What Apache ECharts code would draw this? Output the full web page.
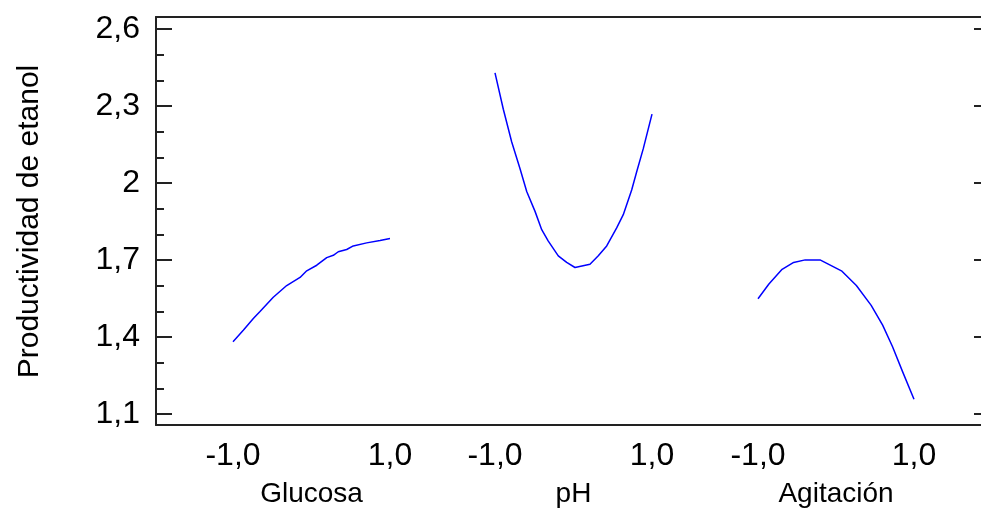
<!DOCTYPE html>
<html>
<head>
<meta charset="utf-8">
<script src="https://cdn.jsdelivr.net/npm/echarts@6/dist/echarts.min.js"></script>
<style>
  html, body { margin: 0; padding: 0; background: #fff; }
  #chart { width: 981px; height: 513px; }
</style>
</head>
<body>
<div id="chart"></div>
<script>
// factor names and coded levels
var factors = ['Glucosa', 'pH', 'Agitación'];
var xTickLabels = ['-1,0', '1,0'];
var yTicks = [1.1, 1.4, 1.7, 2.0, 2.3, 2.6];

// curves (coded level, productividad)
var glucosaX = [-1, -0.869, -0.741, -0.656, -0.487, -0.316, -0.146, -0.061, 0.067, 0.194,
                0.278, 0.341, 0.448, 0.532, 0.703, 0.873, 1];
var glucosaY = [1.369, 1.414, 1.460, 1.488, 1.544, 1.590, 1.622, 1.648, 1.670, 1.700,
                1.709, 1.723, 1.732, 1.746, 1.758, 1.767, 1.775];

var phX = [-1, -0.894, -0.787, -0.682, -0.596, -0.49, -0.405, -0.321, -0.194, -0.087, 0.019,
           0.21, 0.316, 0.423, 0.55, 0.634, 0.741, 0.805, 0.889, 1];
var phY = [2.427, 2.284, 2.155, 2.051, 1.960, 1.882, 1.810, 1.765, 1.707, 1.681, 1.661,
           1.674, 1.707, 1.746, 1.817, 1.869, 1.966, 2.038, 2.129, 2.265];

var agitX = [-1, -0.86, -0.691, -0.543, -0.395, -0.205, 0.07, 0.261, 0.451, 0.598, 0.725, 0.852, 1];
var agitY = [1.538, 1.596, 1.654, 1.681, 1.691, 1.691, 1.648, 1.590, 1.512, 1.434, 1.349, 1.252, 1.142];

var chart = echarts.init(document.getElementById('chart'));

var font = 'Liberation Sans, Arial, sans-serif';
var frameColor = '#222';

function pairs(xs, ys) {
  return xs.map(function (x, i) { return [x, ys[i]]; });
}

// panel grids (one per factor)
var panelLeft = [233, 495, 758];
var panelWidth = [157, 157, 156];

var grids = [
  // frame box
  { left: 156, right: 0, top: 17, height: 408 },
  // tick grid
  { left: 156, right: 0, top: 29, height: 385 }
];
panelLeft.forEach(function (l, i) {
  grids.push({ left: l, width: panelWidth[i], top: 29, height: 385 });
});

var xAxes = [
  { gridIndex: 0, type: 'value', position: 'bottom', min: 0, max: 1,
    axisLine: { show: true, lineStyle: { color: frameColor, width: 2 } },
    axisTick: { show: false }, axisLabel: { show: false }, splitLine: { show: false } },
  { gridIndex: 0, type: 'value', position: 'top', min: 0, max: 1,
    axisLine: { show: true, lineStyle: { color: frameColor, width: 2 } },
    axisTick: { show: false }, axisLabel: { show: false }, splitLine: { show: false } },
  { gridIndex: 1, type: 'value', show: false, min: 0, max: 1 }
];
var yAxes = [
  { gridIndex: 0, type: 'value', min: 0, max: 1,
    axisLine: { show: true, lineStyle: { color: frameColor, width: 2 } },
    axisTick: { show: false }, axisLabel: { show: false }, splitLine: { show: false } },
  { gridIndex: 1, type: 'value', position: 'left', min: 1.1, max: 2.6, interval: 0.3,
    name: 'Productividad de etanol', nameLocation: 'middle', nameGap: 111,
    nameTextStyle: { fontFamily: font, fontSize: 30, color: '#000' },
    axisLine: { show: false },
    axisTick: { show: true, inside: true, length: 16, lineStyle: { color: frameColor, width: 2 } },
    minorTick: { show: true, splitNumber: 3, length: 8, lineStyle: { color: frameColor, width: 2 } },
    axisLabel: { fontFamily: font, fontSize: 32, color: '#000', margin: 16,
      formatter: function (v) {
        var t = yTicks.find(function (y) { return Math.abs(y - v) < 1e-6; });
        return t === undefined ? '' : String(t).replace('.', ',');
      } },
    splitLine: { show: false } },
  { gridIndex: 1, type: 'value', position: 'right', min: 1.1, max: 2.6, interval: 0.3,
    axisLine: { show: false },
    axisTick: { show: true, inside: true, length: 7, lineStyle: { color: frameColor, width: 2 } },
    axisLabel: { show: false }, splitLine: { show: false } }
];

var series = [];
var curves = [pairs(glucosaX, glucosaY), pairs(phX, phY), pairs(agitX, agitY)];
factors.forEach(function (name, i) {
  xAxes.push({
    gridIndex: i + 2, type: 'value', min: -1, max: 1, interval: 2,
    name: name, nameLocation: 'middle', nameGap: 70,
    nameTextStyle: { fontFamily: font, fontSize: 28, color: '#000' },
    axisLine: { show: false }, axisTick: { show: false }, splitLine: { show: false },
    axisLabel: { fontFamily: font, fontSize: 32, color: '#000', margin: 30,
      formatter: function (v) { return v < 0 ? xTickLabels[0] : xTickLabels[1]; } }
  });
  yAxes.push({ gridIndex: i + 2, type: 'value', min: 1.1, max: 2.6, show: false });
  series.push({
    name: name, type: 'line', xAxisIndex: i + 3, yAxisIndex: i + 3,
    data: curves[i], showSymbol: false, smooth: false,
    lineStyle: { color: '#0000ff', width: 1.5 }
  });
});

var option = {
  animation: false,
  backgroundColor: '#fff',
  grid: grids,
  xAxis: xAxes,
  yAxis: yAxes,
  series: series
};

chart.setOption(option);
</script>
</body>
</html>
